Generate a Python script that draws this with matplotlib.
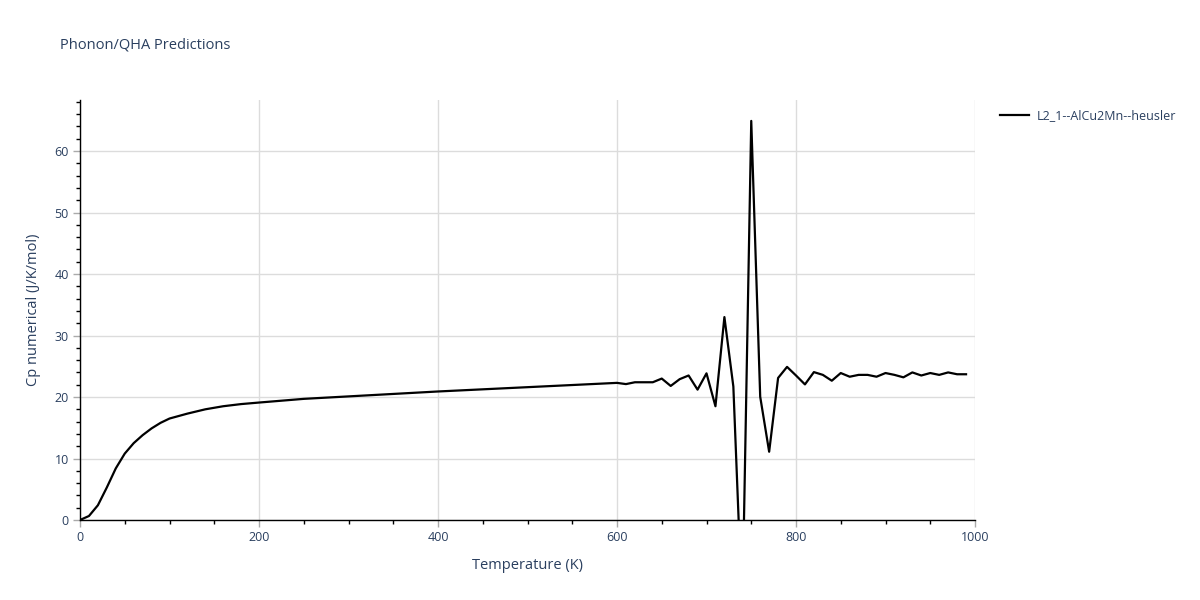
import numpy as np
import matplotlib
matplotlib.use("Agg")
import matplotlib.pyplot as plt
from matplotlib.ticker import MultipleLocator

temps = [0, 10, 20, 30, 40, 50, 60, 70, 80, 90,
         100, 120, 140, 160, 180, 200, 250, 300, 350, 400,
         450, 500, 550, 600, 610, 620, 630, 640, 650, 660,
         670, 680, 690, 700, 710, 720, 730, 740, 750, 760,
         770, 780, 790, 800, 810, 820, 830, 840, 850, 860,
         870, 880, 890, 900, 910, 920, 930, 940, 950, 960,
         970, 980, 990]
cp = [0.0, 0.65, 2.4, 5.3, 8.4, 10.8, 12.5, 13.8, 14.9, 15.8,
      16.5, 17.3, 18.0, 18.5, 18.85, 19.1, 19.7, 20.1, 20.5, 20.9,
      21.25, 21.6, 21.95, 22.3, 22.1, 22.4, 22.4, 22.4, 23.0, 21.8,
      22.9, 23.5, 21.2, 23.85, 18.5, 33.0, 21.7, -15.0, 64.9, 20.05,
      11.1, 23.1, 24.9, 23.5, 22.05, 24.05, 23.6, 22.65, 23.9, 23.3,
      23.6, 23.6, 23.3, 23.9, 23.6, 23.2, 24.0, 23.5, 23.9, 23.6,
      24.0, 23.7, 23.7]

series_name = "L2_1--AlCu2Mn--heusler"
title = "Phonon/QHA Predictions"
xlabel = "Temperature (K)"
ylabel = "Cp numerical (J/K/mol)"

txt = "#2a3f5f"
plt.rcParams['font.family'] = ['Open Sans', 'DejaVu Sans']

fig = plt.figure(figsize=(12, 6), dpi=100)
ax = fig.add_axes([80/1200, 80/600, 895/1200, 420/600])
ax.plot(temps, cp, color='black', lw=1.6, label=series_name, clip_on=True)
ax.set_xlim(0, 1000)
ax.set_ylim(0, 68.3)

ax.xaxis.set_major_locator(MultipleLocator(200))
ax.xaxis.set_minor_locator(MultipleLocator(50))
ax.yaxis.set_major_locator(MultipleLocator(10))
ax.yaxis.set_minor_locator(MultipleLocator(2))
ax.grid(True, which='major', color='#dcdcdc', lw=1)
ax.set_axisbelow(True)
for s in ['top', 'right']:
    ax.spines[s].set_visible(False)
for s in ['left', 'bottom']:
    ax.spines[s].set_color('black')
    ax.spines[s].set_linewidth(1)
ax.tick_params(which='major', direction='out', length=5, width=1, color='#aaaaaa',
               labelsize=9, labelcolor=txt, pad=3)
ax.tick_params(which='minor', direction='out', length=3, width=1, color='black')

ax.set_xlabel(xlabel, fontsize=10.5, color=txt, labelpad=10)
ax.set_ylabel(ylabel, fontsize=10.5, color=txt, labelpad=10)
fig.text(60/1200, 1 - 45/600, title, fontsize=10.5, color=txt, va='center', ha='left')

leg = ax.legend(loc='upper left', bbox_to_anchor=(1000/1200, 1 - 109/600),
                bbox_transform=fig.transFigure, frameon=False, fontsize=9,
                handlelength=2.3, handletextpad=0.6, borderaxespad=0,
                borderpad=0)
for t in leg.get_texts():
    t.set_color(txt)

fig.savefig("out.png", dpi=100)
